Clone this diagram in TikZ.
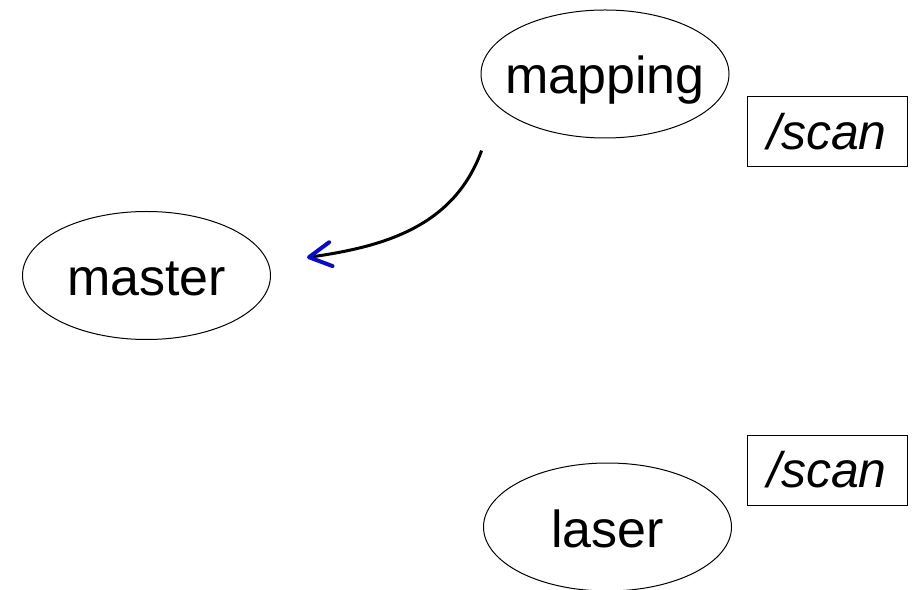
\documentclass[tikz,border=0pt]{standalone}
\usepackage{fontspec}
\setmainfont{Liberation Sans}
\usetikzlibrary{shapes,arrows.meta,positioning}

\begin{document}
\begin{tikzpicture}[%
    >={Straight Barb[length=11pt, width=12pt, line width=2pt, round, color=tipblue]},
    node distance=100pt and 230pt, % Global setup of node spacing
    ]
\definecolor{tipblue}{RGB}{10,10,200}
% -------------------------------------------------
% Node styles
\tikzset{
  base/.style={draw, line width=0.5pt, on grid, align=center,
    font=\fontsize{26}{30}\selectfont},
  proc/.style={base, ellipse, minimum width=124pt, minimum height=64pt,
    inner xsep=-16pt, inner ysep=0pt, text height=25pt, text depth=5pt},
  topic/.style={base, rectangle, minimum width=80pt, minimum height=35pt,
    inner sep=0pt, font=\fontsize{25}{30}\selectfont\itshape},
  % Connector line style
  msg/.style={->, line width=1.5pt}
}
\useasboundingbox (0,0) rectangle (456.5pt,294.5pt);
% -------------------------------------------------
% Start by placing the nodes
\node [proc] (master) at (73.25pt,156.75pt) {master};
\node [proc, above right=100.75pt and 229.25pt of master] (mapping) {mapping};
\node [proc, below right=125.75pt and 230.5pt of master] (laser) {laser};
\node [topic, below right=29pt and 111pt of mapping] (scanA) {/scan};
\node [topic, above right=28.5pt and 109.75pt of laser] (scanB) {/scan};

\draw[msg] ([xshift=-17.7pt,yshift=-15.5pt]mapping.south west)
  to [out=250, in=8] ([xshift=18pt,yshift=9pt]master.east); % mapping -> master

% -------------------------------------------------
\end{tikzpicture}
\end{document}
